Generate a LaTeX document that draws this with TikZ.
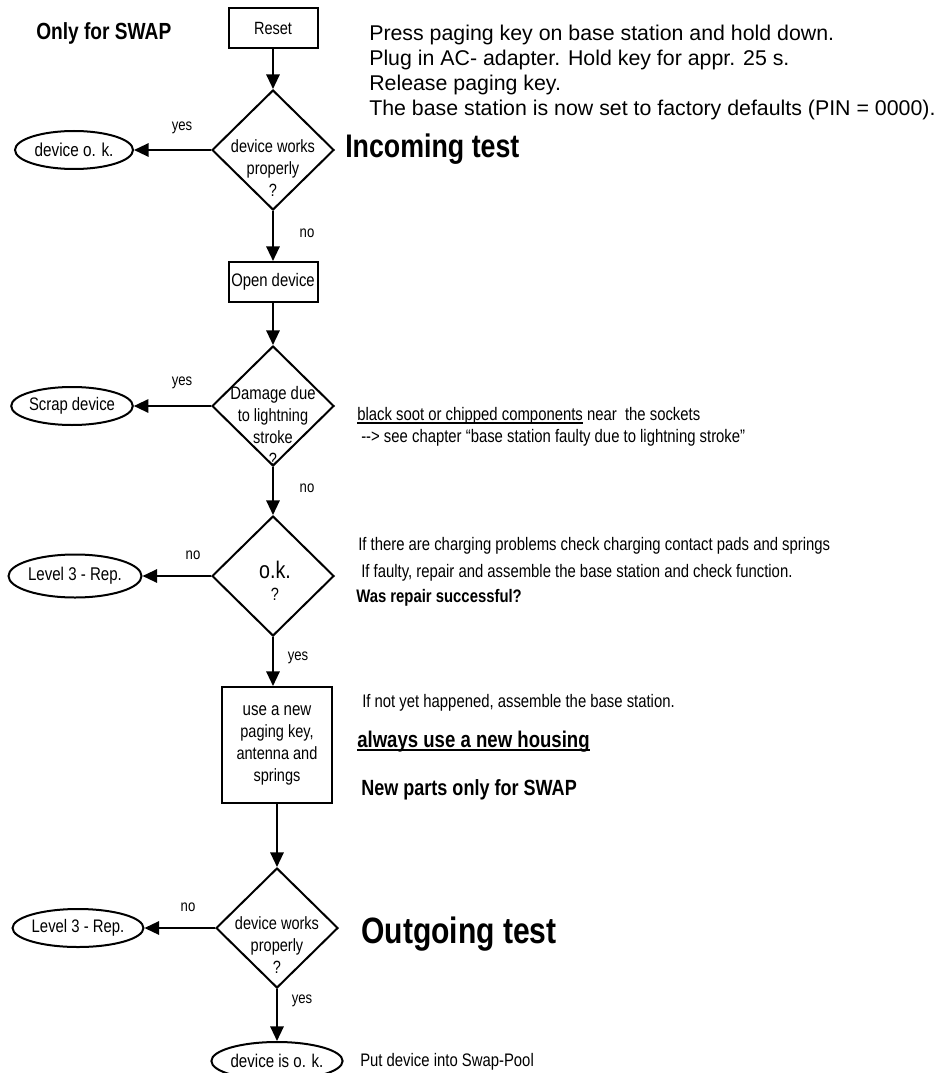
\documentclass[tikz,border=0pt]{standalone}
\usepackage{fontspec}
\setmainfont{Liberation Sans}
\newfontfamily\nar[FakeStretch=0.82]{Liberation Sans}
\usetikzlibrary{shapes.geometric,arrows.meta}
\newcommand\fs[2]{\fontsize{#1}{#2}\selectfont}
\newcommand\ulx[1]{\setbox0\hbox{#1}\rlap{\raisebox{-2.8pt}{\rule{\wd0}{1.1pt}}}\box0\relax}
\begin{document}
\begin{tikzpicture}[x=0.75pt,y=-0.75pt,
 shp/.style={draw, line width=1.5pt, inner sep=0pt, font=\nar\fs{13.3pt}{16.5pt}, align=center},
 box/.style={shp, rectangle},
 dia/.style={shp, diamond, minimum width=91.5pt, minimum height=90pt},
 term/.style={shp, ellipse},
 diatext/.style={inner sep=0pt, font=\nar\fs{13.3pt}{16.5pt}, align=center},
 arr/.style={line width=1.6pt, -{Triangle[length=11pt,width=10pt]}},
 lbl/.style={inner sep=0pt, font=\nar\fs{12pt}{14pt}},
 note/.style={anchor=base west, inner sep=0pt, font=\nar\fs{13.6pt}{16pt}},
 bnote/.style={anchor=base west, inner sep=0pt, font=\nar\bfseries\fs{13.6pt}{16pt}},
 head/.style={anchor=base west, inner sep=0pt, font=\fs{16pt}{19pt}},
 big/.style={anchor=base west, inner sep=0pt, font=\nar\bfseries\fs{24.5pt}{28pt}},
]
\useasboundingbox (0,0) rectangle (938,1073);

% ---- left column ----
\node[box, minimum width=66.75pt, minimum height=30pt] (reset) at (273,28) {Reset};
\node[dia] (d1) at (273,150) {};
\node[diatext] (t1) at (273,168) {device works\\properly\\?};
\node[term, minimum width=88.5pt, minimum height=28.5pt] (ok1) at (74,150) {\fs{14pt}{16pt}device o. k.};

\node[box, minimum width=66.75pt, minimum height=30pt] (open) at (273,282) {\fs{13.6pt}{16pt}Open device};
\node[dia] (d2) at (273,406) {};
\node[diatext] (t2) at (273,426) {\fs{13.6pt}{16.5pt}Damage due\\to lightning\\stroke\\?};
\node[term, minimum width=90pt, minimum height=28.5pt] (scrap) at (72,406) {\fs{13.6pt}{16pt}Scrap device};

\node[dia] (d3) at (273,576) {};
\node[diatext] (t3) at (275,581) {\fs{18pt}{16.5pt}o.k.\\?};
\node[term, minimum width=99.75pt, minimum height=32.25pt] (lv1) at (75,576) {\fs{13.8pt}{16pt}Level 3 - Rep.};

\node[box, minimum width=82.5pt, minimum height=87pt] (parts) at (277,745) {\fs{13.8pt}{16.5pt}use a new\\paging key,\\antenna and\\springs};

\node[dia] (d4) at (277,928) {};
\node[diatext] (t4) at (277,945) {device works\\properly\\?};
\node[term, minimum width=87.75pt, minimum height=28.5pt] (lv2) at (78,928) {\fs{13.6pt}{16pt}Level 3 - Rep.};

\node[term, minimum width=90pt, minimum height=28.5pt] (okf) at (277,1061) {\fs{13.8pt}{16pt}device is o. k.};

% ---- connectors ----
\draw[arr] (reset.south) -- (d1.north);
\draw[arr] (d1.west) -- (ok1.east);
\draw[arr] (d1.south) -- (open.north);
\draw[arr] (open.south) -- (d2.north);
\draw[arr] (d2.west) -- (scrap.east);
\draw[arr] (d2.south) -- (d3.north);
\draw[arr] (d3.west) -- (lv1.east);
\draw[arr] (d3.south) -- (d3.south |- parts.north);
\draw[arr] (parts.south) -- (d4.north);
\draw[arr] (d4.west) -- (lv2.east);
\draw[arr] (d4.south) -- (okf.north);

% ---- connector labels ----
\node[lbl] (y1) at (182,128) {yes};
\node[lbl] (n1) at (307,233) {no};
\node[lbl] (y2) at (182,383) {yes};
\node[lbl] (n2) at (307,488) {no};
\node[lbl] (n3) at (193,555) {no};
\node[lbl] (y3) at (298,658) {yes};
\node[lbl] (n4) at (188,907) {no};
\node[lbl] (y4) at (302,1001) {yes};

% ---- notes ----
\node[anchor=base west, inner sep=0pt, font=\nar\bfseries\fs{17.5pt}{20pt}] (swap) at (36,40) {Only for SWAP};
\node[head] (h1) at (369,41) {Press paging key on base station and hold down.};
\node[head] (h2) at (369,66) {Plug in AC- adapter. Hold key for appr. 25 s.};
\node[head] (h3) at (369,91) {Release paging key.};
\node[head] (h4) at (369,116) {The base station is now set to factory defaults (PIN = 0000).};
\node[big] (inc) at (345,158) {Incoming test};

\node[note] (n5) at (357,420) {\ulx{black soot or chipped components} near\ \ the sockets};
\node[note] (n6) at (361,442) {--> see chapter “base station faulty due to lightning stroke”};

\node[note] (n7) at (358,550) {If there are charging problems check charging contact pads and springs};
\node[note] (n8) at (361,577) {If faulty, repair and assemble the base station and check function.};
\node[bnote] (n9) at (356,602) {Was repair successful?};

\node[note] (n10) at (362,707) {If not yet happened, assemble the base station.};
\node[anchor=base west, inner sep=0pt, font=\nar\bfseries\fs{17pt}{20pt}] (n11) at (357,747) {\ulx{always use a new housing}};
\node[anchor=base west, inner sep=0pt, font=\nar\bfseries\fs{16.5pt}{20pt}] (n12) at (361,795) {New parts only for SWAP};

\node[big, font=\nar\bfseries\fs{27.5pt}{30pt}] (out) at (361,943) {Outgoing test};
\node[note] (n13) at (360,1066) {Put device into Swap-Pool};
\end{tikzpicture}
\end{document}
